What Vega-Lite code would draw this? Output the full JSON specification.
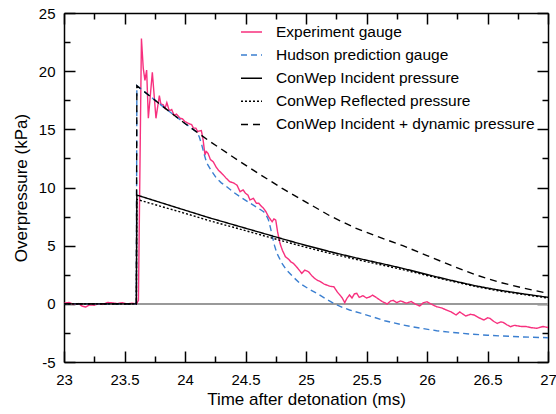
{
"$schema":"https://vega.github.io/schema/vega-lite/v6.json",
"width":484,"height":349,
"autosize":{"type":"none"},
"padding":{"left":64,"top":13,"right":8,"bottom":52},
"config":{"view":{"stroke":null},"font":"Liberation Sans","axis":{"labelFont":"Liberation Sans","titleFont":"Liberation Sans","grid":false,"domainColor":"black","domainWidth":1.5,"tickColor":"black","tickWidth":1.5},"legend":{"labelFont":"Liberation Sans"}},
"data":{"values":[
{"s":"Experiment gauge","t":23.0,"p":0.05},{"s":"Experiment gauge","t":23.04,"p":0.12},{"s":"Experiment gauge","t":23.08,"p":-0.05},{"s":"Experiment gauge","t":23.12,"p":0.02},{"s":"Experiment gauge","t":23.15,"p":-0.2},{"s":"Experiment gauge","t":23.18,"p":-0.28},{"s":"Experiment gauge","t":23.21,"p":-0.1},{"s":"Experiment gauge","t":23.25,"p":-0.12},{"s":"Experiment gauge","t":23.28,"p":0.0},{"s":"Experiment gauge","t":23.32,"p":-0.05},{"s":"Experiment gauge","t":23.36,"p":0.12},{"s":"Experiment gauge","t":23.40,"p":0.08},{"s":"Experiment gauge","t":23.44,"p":0.02},{"s":"Experiment gauge","t":23.48,"p":0.1},{"s":"Experiment gauge","t":23.52,"p":0.0},{"s":"Experiment gauge","t":23.56,"p":0.05},{"s":"Experiment gauge","t":23.60,"p":0.0},{"s":"Experiment gauge","t":23.615,"p":0.3},{"s":"Experiment gauge","t":23.64,"p":22.8},{"s":"Experiment gauge","t":23.655,"p":20.25},{"s":"Experiment gauge","t":23.669,"p":19.2},{"s":"Experiment gauge","t":23.683,"p":20.1},{"s":"Experiment gauge","t":23.697,"p":15.95},{"s":"Experiment gauge","t":23.73,"p":19.9},{"s":"Experiment gauge","t":23.76,"p":15.95},{"s":"Experiment gauge","t":23.788,"p":17.9},{"s":"Experiment gauge","t":23.80,"p":17.2},{"s":"Experiment gauge","t":23.82,"p":17.1},{"s":"Experiment gauge","t":23.835,"p":16.8},{"s":"Experiment gauge","t":23.85,"p":17.3},{"s":"Experiment gauge","t":23.87,"p":16.6},{"s":"Experiment gauge","t":23.89,"p":16.7},{"s":"Experiment gauge","t":23.91,"p":16.2},{"s":"Experiment gauge","t":23.93,"p":16.3},{"s":"Experiment gauge","t":23.96,"p":15.95},{"s":"Experiment gauge","t":23.98,"p":15.9},{"s":"Experiment gauge","t":24.0,"p":15.66},{"s":"Experiment gauge","t":24.03,"p":15.5},{"s":"Experiment gauge","t":24.055,"p":15.4},{"s":"Experiment gauge","t":24.07,"p":15.1},{"s":"Experiment gauge","t":24.09,"p":15.1},{"s":"Experiment gauge","t":24.105,"p":14.8},{"s":"Experiment gauge","t":24.118,"p":14.86},{"s":"Experiment gauge","t":24.135,"p":14.9},{"s":"Experiment gauge","t":24.15,"p":14.08},{"s":"Experiment gauge","t":24.165,"p":12.8},{"s":"Experiment gauge","t":24.175,"p":13.1},{"s":"Experiment gauge","t":24.19,"p":12.94},{"s":"Experiment gauge","t":24.21,"p":12.4},{"s":"Experiment gauge","t":24.234,"p":12.2},{"s":"Experiment gauge","t":24.255,"p":11.8},{"s":"Experiment gauge","t":24.275,"p":11.5},{"s":"Experiment gauge","t":24.295,"p":11.3},{"s":"Experiment gauge","t":24.317,"p":11.07},{"s":"Experiment gauge","t":24.34,"p":10.8},{"s":"Experiment gauge","t":24.37,"p":10.5},{"s":"Experiment gauge","t":24.40,"p":10.4},{"s":"Experiment gauge","t":24.43,"p":10.2},{"s":"Experiment gauge","t":24.455,"p":9.64},{"s":"Experiment gauge","t":24.48,"p":9.8},{"s":"Experiment gauge","t":24.50,"p":9.5},{"s":"Experiment gauge","t":24.52,"p":9.35},{"s":"Experiment gauge","t":24.537,"p":8.93},{"s":"Experiment gauge","t":24.565,"p":9.07},{"s":"Experiment gauge","t":24.59,"p":8.64},{"s":"Experiment gauge","t":24.61,"p":8.64},{"s":"Experiment gauge","t":24.63,"p":8.4},{"s":"Experiment gauge","t":24.65,"p":8.2},{"s":"Experiment gauge","t":24.67,"p":7.9},{"s":"Experiment gauge","t":24.69,"p":7.49},{"s":"Experiment gauge","t":24.72,"p":7.06},{"s":"Experiment gauge","t":24.735,"p":7.3},{"s":"Experiment gauge","t":24.75,"p":7.2},{"s":"Experiment gauge","t":24.765,"p":6.2},{"s":"Experiment gauge","t":24.785,"p":5.2},{"s":"Experiment gauge","t":24.805,"p":4.6},{"s":"Experiment gauge","t":24.83,"p":4.05},{"s":"Experiment gauge","t":24.86,"p":3.8},{"s":"Experiment gauge","t":24.875,"p":3.6},{"s":"Experiment gauge","t":24.895,"p":3.48},{"s":"Experiment gauge","t":24.92,"p":3.2},{"s":"Experiment gauge","t":24.94,"p":2.95},{"s":"Experiment gauge","t":24.965,"p":2.62},{"s":"Experiment gauge","t":24.99,"p":2.9},{"s":"Experiment gauge","t":25.02,"p":2.76},{"s":"Experiment gauge","t":25.05,"p":2.4},{"s":"Experiment gauge","t":25.07,"p":2.2},{"s":"Experiment gauge","t":25.09,"p":2.05},{"s":"Experiment gauge","t":25.12,"p":1.9},{"s":"Experiment gauge","t":25.15,"p":1.7},{"s":"Experiment gauge","t":25.17,"p":1.62},{"s":"Experiment gauge","t":25.2,"p":1.5},{"s":"Experiment gauge","t":25.23,"p":1.47},{"s":"Experiment gauge","t":25.26,"p":1.0},{"s":"Experiment gauge","t":25.28,"p":0.76},{"s":"Experiment gauge","t":25.30,"p":0.5},{"s":"Experiment gauge","t":25.32,"p":0.1},{"s":"Experiment gauge","t":25.34,"p":0.5},{"s":"Experiment gauge","t":25.36,"p":0.76},{"s":"Experiment gauge","t":25.38,"p":0.5},{"s":"Experiment gauge","t":25.40,"p":0.85},{"s":"Experiment gauge","t":25.42,"p":0.9},{"s":"Experiment gauge","t":25.44,"p":0.55},{"s":"Experiment gauge","t":25.47,"p":0.7},{"s":"Experiment gauge","t":25.50,"p":0.5},{"s":"Experiment gauge","t":25.53,"p":0.61},{"s":"Experiment gauge","t":25.55,"p":0.75},{"s":"Experiment gauge","t":25.58,"p":0.55},{"s":"Experiment gauge","t":25.60,"p":0.4},{"s":"Experiment gauge","t":25.63,"p":0.2},{"s":"Experiment gauge","t":25.65,"p":0.1},{"s":"Experiment gauge","t":25.67,"p":-0.02},{"s":"Experiment gauge","t":25.70,"p":0.25},{"s":"Experiment gauge","t":25.72,"p":0.3},{"s":"Experiment gauge","t":25.75,"p":0.1},{"s":"Experiment gauge","t":25.78,"p":0.25},{"s":"Experiment gauge","t":25.80,"p":0.18},{"s":"Experiment gauge","t":25.83,"p":0.05},{"s":"Experiment gauge","t":25.87,"p":0.2},{"s":"Experiment gauge","t":25.90,"p":0.0},{"s":"Experiment gauge","t":25.94,"p":-0.19},{"s":"Experiment gauge","t":25.97,"p":0.1},{"s":"Experiment gauge","t":26.00,"p":0.18},{"s":"Experiment gauge","t":26.04,"p":-0.05},{"s":"Experiment gauge","t":26.08,"p":-0.25},{"s":"Experiment gauge","t":26.12,"p":-0.35},{"s":"Experiment gauge","t":26.16,"p":-0.53},{"s":"Experiment gauge","t":26.20,"p":-0.7},{"s":"Experiment gauge","t":26.24,"p":-0.96},{"s":"Experiment gauge","t":26.27,"p":-0.7},{"s":"Experiment gauge","t":26.30,"p":-0.9},{"s":"Experiment gauge","t":26.32,"p":-1.05},{"s":"Experiment gauge","t":26.36,"p":-0.9},{"s":"Experiment gauge","t":26.39,"p":-0.96},{"s":"Experiment gauge","t":26.43,"p":-1.2},{"s":"Experiment gauge","t":26.47,"p":-1.39},{"s":"Experiment gauge","t":26.50,"p":-1.2},{"s":"Experiment gauge","t":26.52,"p":-1.25},{"s":"Experiment gauge","t":26.55,"p":-1.5},{"s":"Experiment gauge","t":26.58,"p":-1.68},{"s":"Experiment gauge","t":26.61,"p":-1.55},{"s":"Experiment gauge","t":26.63,"p":-1.6},{"s":"Experiment gauge","t":26.66,"p":-1.8},{"s":"Experiment gauge","t":26.69,"p":-1.97},{"s":"Experiment gauge","t":26.72,"p":-1.85},{"s":"Experiment gauge","t":26.74,"p":-1.88},{"s":"Experiment gauge","t":26.78,"p":-1.95},{"s":"Experiment gauge","t":26.82,"p":-1.95},{"s":"Experiment gauge","t":26.86,"p":-2.05},{"s":"Experiment gauge","t":26.91,"p":-2.1},{"s":"Experiment gauge","t":26.94,"p":-2.0},{"s":"Experiment gauge","t":26.96,"p":-1.95},{"s":"Experiment gauge","t":27.0,"p":-2.03},
{"s":"Hudson prediction gauge","t":23.0,"p":0},{"s":"Hudson prediction gauge","t":23.598,"p":0},{"s":"Hudson prediction gauge","t":23.602,"p":18.75},{"s":"Hudson prediction gauge","t":23.8,"p":17.1},{"s":"Hudson prediction gauge","t":24.0,"p":15.5},{"s":"Hudson prediction gauge","t":24.1,"p":14.75},{"s":"Hudson prediction gauge","t":24.12,"p":14.3},{"s":"Hudson prediction gauge","t":24.14,"p":13.6},{"s":"Hudson prediction gauge","t":24.16,"p":12.8},{"s":"Hudson prediction gauge","t":24.18,"p":12.1},{"s":"Hudson prediction gauge","t":24.22,"p":11.4},{"s":"Hudson prediction gauge","t":24.26,"p":10.8},{"s":"Hudson prediction gauge","t":24.30,"p":10.4},{"s":"Hudson prediction gauge","t":24.345,"p":10.07},{"s":"Hudson prediction gauge","t":24.40,"p":9.6},{"s":"Hudson prediction gauge","t":24.455,"p":9.2},{"s":"Hudson prediction gauge","t":24.54,"p":8.64},{"s":"Hudson prediction gauge","t":24.60,"p":8.25},{"s":"Hudson prediction gauge","t":24.65,"p":7.92},{"s":"Hudson prediction gauge","t":24.67,"p":7.65},{"s":"Hudson prediction gauge","t":24.69,"p":7.2},{"s":"Hudson prediction gauge","t":24.705,"p":6.6},{"s":"Hudson prediction gauge","t":24.72,"p":5.9},{"s":"Hudson prediction gauge","t":24.74,"p":5.0},{"s":"Hudson prediction gauge","t":24.76,"p":4.34},{"s":"Hudson prediction gauge","t":24.80,"p":3.5},{"s":"Hudson prediction gauge","t":24.84,"p":2.9},{"s":"Hudson prediction gauge","t":24.90,"p":2.25},{"s":"Hudson prediction gauge","t":24.95,"p":1.76},{"s":"Hudson prediction gauge","t":25.02,"p":1.3},{"s":"Hudson prediction gauge","t":25.09,"p":0.9},{"s":"Hudson prediction gauge","t":25.16,"p":0.45},{"s":"Hudson prediction gauge","t":25.23,"p":0.04},{"s":"Hudson prediction gauge","t":25.30,"p":-0.3},{"s":"Hudson prediction gauge","t":25.36,"p":-0.53},{"s":"Hudson prediction gauge","t":25.45,"p":-0.8},{"s":"Hudson prediction gauge","t":25.53,"p":-1.05},{"s":"Hudson prediction gauge","t":25.65,"p":-1.45},{"s":"Hudson prediction gauge","t":25.8,"p":-1.82},{"s":"Hudson prediction gauge","t":25.95,"p":-2.1},{"s":"Hudson prediction gauge","t":26.08,"p":-2.31},{"s":"Hudson prediction gauge","t":26.2,"p":-2.45},{"s":"Hudson prediction gauge","t":26.36,"p":-2.6},{"s":"Hudson prediction gauge","t":26.5,"p":-2.7},{"s":"Hudson prediction gauge","t":26.63,"p":-2.77},{"s":"Hudson prediction gauge","t":26.8,"p":-2.85},{"s":"Hudson prediction gauge","t":27.0,"p":-2.91},
{"s":"ConWep Incident pressure","t":23.0,"p":0},{"s":"ConWep Incident pressure","t":23.598,"p":0},{"s":"ConWep Incident pressure","t":23.602,"p":9.35},{"s":"ConWep Incident pressure","t":23.8,"p":8.7},{"s":"ConWep Incident pressure","t":24.0,"p":8.05},{"s":"ConWep Incident pressure","t":24.2,"p":7.4},{"s":"ConWep Incident pressure","t":24.4,"p":6.8},{"s":"ConWep Incident pressure","t":24.6,"p":6.2},{"s":"ConWep Incident pressure","t":24.8,"p":5.6},{"s":"ConWep Incident pressure","t":25.0,"p":5.02},{"s":"ConWep Incident pressure","t":25.2,"p":4.48},{"s":"ConWep Incident pressure","t":25.4,"p":3.98},{"s":"ConWep Incident pressure","t":25.6,"p":3.52},{"s":"ConWep Incident pressure","t":25.8,"p":3.05},{"s":"ConWep Incident pressure","t":26.0,"p":2.52},{"s":"ConWep Incident pressure","t":26.2,"p":2.02},{"s":"ConWep Incident pressure","t":26.4,"p":1.55},{"s":"ConWep Incident pressure","t":26.6,"p":1.17},{"s":"ConWep Incident pressure","t":26.8,"p":0.85},{"s":"ConWep Incident pressure","t":27.0,"p":0.56},
{"s":"ConWep Reflected pressure","t":23.0,"p":0},{"s":"ConWep Reflected pressure","t":23.598,"p":0},{"s":"ConWep Reflected pressure","t":23.602,"p":8.98},{"s":"ConWep Reflected pressure","t":23.8,"p":8.38},{"s":"ConWep Reflected pressure","t":24.0,"p":7.78},{"s":"ConWep Reflected pressure","t":24.2,"p":7.15},{"s":"ConWep Reflected pressure","t":24.4,"p":6.58},{"s":"ConWep Reflected pressure","t":24.6,"p":6.0},{"s":"ConWep Reflected pressure","t":24.8,"p":5.42},{"s":"ConWep Reflected pressure","t":25.0,"p":4.86},{"s":"ConWep Reflected pressure","t":25.2,"p":4.34},{"s":"ConWep Reflected pressure","t":25.4,"p":3.85},{"s":"ConWep Reflected pressure","t":25.6,"p":3.4},{"s":"ConWep Reflected pressure","t":25.8,"p":2.94},{"s":"ConWep Reflected pressure","t":26.0,"p":2.44},{"s":"ConWep Reflected pressure","t":26.2,"p":1.96},{"s":"ConWep Reflected pressure","t":26.4,"p":1.49},{"s":"ConWep Reflected pressure","t":26.6,"p":1.1},{"s":"ConWep Reflected pressure","t":26.8,"p":0.8},{"s":"ConWep Reflected pressure","t":27.0,"p":0.5},
{"s":"ConWep Incident + dynamic pressure","t":23.0,"p":0},{"s":"ConWep Incident + dynamic pressure","t":23.598,"p":0},{"s":"ConWep Incident + dynamic pressure","t":23.602,"p":18.75},{"s":"ConWep Incident + dynamic pressure","t":23.8,"p":17.1},{"s":"ConWep Incident + dynamic pressure","t":24.0,"p":15.5},{"s":"ConWep Incident + dynamic pressure","t":24.2,"p":14.0},{"s":"ConWep Incident + dynamic pressure","t":24.4,"p":12.6},{"s":"ConWep Incident + dynamic pressure","t":24.6,"p":11.25},{"s":"ConWep Incident + dynamic pressure","t":24.8,"p":9.95},{"s":"ConWep Incident + dynamic pressure","t":25.0,"p":8.75},{"s":"ConWep Incident + dynamic pressure","t":25.2,"p":7.55},{"s":"ConWep Incident + dynamic pressure","t":25.4,"p":6.55},{"s":"ConWep Incident + dynamic pressure","t":25.6,"p":5.75},{"s":"ConWep Incident + dynamic pressure","t":25.8,"p":5.0},{"s":"ConWep Incident + dynamic pressure","t":26.0,"p":4.15},{"s":"ConWep Incident + dynamic pressure","t":26.2,"p":3.3},{"s":"ConWep Incident + dynamic pressure","t":26.4,"p":2.5},{"s":"ConWep Incident + dynamic pressure","t":26.6,"p":1.85},{"s":"ConWep Incident + dynamic pressure","t":26.8,"p":1.35},{"s":"ConWep Incident + dynamic pressure","t":27.0,"p":0.9}
]},
"layer":[
{"mark":{"type":"rule","color":"#999999","strokeWidth":1.5},
 "encoding":{
  "x":{"datum":23,"type":"quantitative","scale":{"domain":[23,27],"nice":false,"zero":false},
   "axis":{"orient":"top","values":[23,23.5,24,24.5,25,25.5,26,26.5,27],"labels":false,"title":null,"tickSize":-11}},
  "x2":{"datum":27},
  "y":{"datum":0,"type":"quantitative","scale":{"domain":[-5,25],"nice":false,"zero":false},
   "axis":{"orient":"right","values":[-5,0,5,10,15,20,25],"labels":false,"title":null,"tickSize":-11}}
 }},
{"mark":{"type":"rule","opacity":0},
 "encoding":{
  "x":{"datum":23,"type":"quantitative","scale":{"domain":[23,27],"nice":false,"zero":false},
   "axis":{"orient":"top","values":[23.25,23.75,24.25,24.75,25.25,25.75,26.25,26.75],"labels":false,"domain":false,"title":null,"tickSize":-6}},
  "x2":{"datum":27},
  "y":{"datum":0,"type":"quantitative","scale":{"domain":[-5,25],"nice":false,"zero":false},
   "axis":{"orient":"right","values":[-2.5,2.5,7.5,12.5,17.5,22.5],"labels":false,"domain":false,"title":null,"tickSize":-6}}
 }},
{"mark":{"type":"rule","opacity":0},
 "encoding":{
  "x":{"datum":23,"type":"quantitative","scale":{"domain":[23,27],"nice":false,"zero":false},
   "axis":{"orient":"bottom","values":[23.25,23.75,24.25,24.75,25.25,25.75,26.25,26.75],"labels":false,"domain":false,"title":null,"tickSize":-6}},
  "x2":{"datum":27},
  "y":{"datum":0,"type":"quantitative","scale":{"domain":[-5,25],"nice":false,"zero":false},
   "axis":{"orient":"left","values":[-2.5,2.5,7.5,12.5,17.5,22.5],"labels":false,"domain":false,"title":null,"tickSize":-6}}
 }},
{"mark":{"type":"line","strokeWidth":1.4},
 "encoding":{
  "x":{"field":"t","type":"quantitative","scale":{"domain":[23,27],"nice":false,"zero":false},
   "axis":{"orient":"bottom","values":[23,23.5,24,24.5,25,25.5,26,26.5,27],"labelExpr":"toString(datum.value)","labelFlush":false,"labelOverlap":false,"labelFontSize":15,"labelColor":"black","tickSize":-11,"labelPadding":21,
    "title":"Time after detonation (ms)","titleFontSize":17,"titleFontWeight":"normal","titleColor":"black","titlePadding":4}},
  "y":{"field":"p","type":"quantitative","scale":{"domain":[-5,25],"nice":false,"zero":false},
   "axis":{"orient":"left","values":[-5,0,5,10,15,20,25],"labelExpr":"toString(datum.value)","labelFlush":false,"labelOverlap":false,"labelFontSize":15,"labelColor":"black","tickSize":-11,"labelPadding":20,
    "title":"Overpressure (kPa)","titleFontSize":17,"titleFontWeight":"normal","titleColor":"black","titlePadding":8}},
  "color":{"field":"s","type":"nominal","scale":{"domain":["Experiment gauge","Hudson prediction gauge","ConWep Incident pressure","ConWep Reflected pressure","ConWep Incident + dynamic pressure"],"range":["#f7307e","#3b7fd0","#000000","#000000","#000000"]},
   "legend":{"orient":"none","legendX":176,"legendY":7.5,"title":null,"padding":0,"symbolType":"stroke","symbolSize":441,"symbolStrokeWidth":1.5,"labelFontSize":15.5,"labelColor":"black","labelOffset":13,"labelLimit":400,"rowPadding":3.1}},
  "strokeDash":{"field":"s","type":"nominal","scale":{"domain":["Experiment gauge","Hudson prediction gauge","ConWep Incident pressure","ConWep Reflected pressure","ConWep Incident + dynamic pressure"],"range":[[1,0],[6,4],[1,0],[2,2],[7,5]]},
   "legend":{"orient":"none","legendX":176,"legendY":7.5,"title":null,"padding":0,"symbolType":"stroke","symbolSize":441,"symbolStrokeWidth":1.5,"labelFontSize":15.5,"labelColor":"black","labelOffset":13,"labelLimit":400,"rowPadding":3.1}}
 }}
],
"resolve":{"axis":{"x":"independent","y":"independent"}}
}
